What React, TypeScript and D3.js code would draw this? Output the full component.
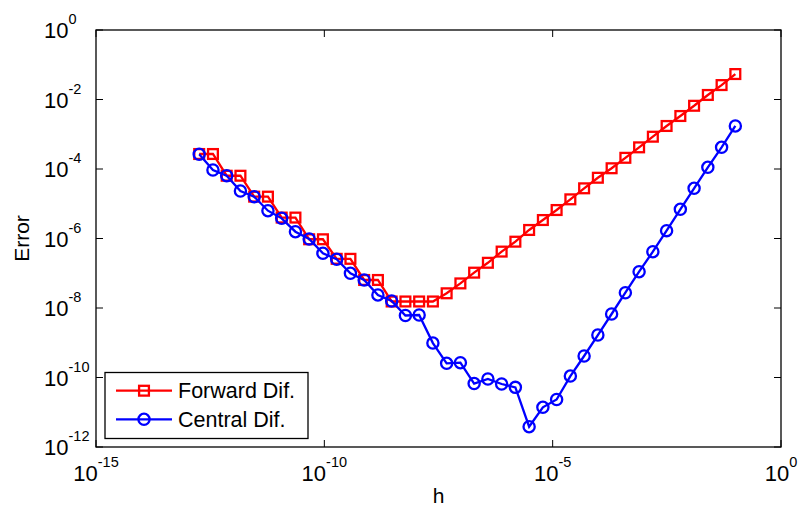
import React from "react";
import * as d3 from "d3";

// step sizes h (ascending)
const hValues = [
  1.819e-13, 3.638e-13, 7.276e-13, 1.455e-12, 2.910e-12, 5.821e-12, 1.164e-11, 2.328e-11,
  4.657e-11, 9.313e-11, 1.863e-10, 3.725e-10, 7.451e-10, 1.490e-9, 2.980e-9, 5.960e-9,
  1.192e-8, 2.384e-8, 4.768e-8, 9.537e-8, 1.907e-7, 3.815e-7, 7.629e-7, 1.526e-6,
  3.052e-6, 6.104e-6, 1.221e-5, 2.441e-5, 4.883e-5, 9.766e-5, 1.953e-4, 3.906e-4,
  7.813e-4, 1.563e-3, 3.125e-3, 6.25e-3, 1.25e-2, 2.5e-2, 5e-2, 1e-1,
];

const forwardErr = [
  2.70e-4, 2.70e-4, 6.4e-5, 6.4e-5, 1.6e-5, 1.6e-5, 4.0e-6, 4.0e-6,
  9.5e-7, 9.5e-7, 2.6e-7, 2.6e-7, 6.4e-8, 6.4e-8, 1.54e-8, 1.54e-8,
  1.54e-8, 1.54e-8, 2.65e-8, 5.1e-8, 1.04e-7, 2.0e-7, 4.2e-7, 8.1e-7,
  1.76e-6, 3.4e-6, 6.6e-6, 1.34e-5, 2.78e-5, 5.6e-5, 1.05e-4, 2.1e-4,
  4.2e-4, 8.5e-4, 1.73e-3, 3.35e-3, 6.6e-3, 1.35e-2, 2.6e-2, 5.4e-2,
];

const centralErr = [
  2.65e-4, 9.36e-5, 6.41e-5, 2.33e-5, 1.60e-5, 6.31e-6, 3.81e-6, 1.57e-6,
  9.68e-7, 3.75e-7, 2.52e-7, 9.97e-8, 6.40e-8, 2.37e-8, 1.59e-8, 6.08e-9,
  6.29e-9, 9.8e-10, 2.56e-10, 2.67e-10, 6.7e-11, 9.06e-11, 6.5e-11, 5.2e-11,
  3.84e-12, 1.39e-11, 2.33e-11, 1.10e-10, 4.16e-10, 1.67e-9, 6.72e-9, 2.75e-8,
  1.11e-7, 4.17e-7, 1.68e-6, 6.92e-6, 2.78e-5, 1.12e-4, 4.21e-4, 1.73e-3,
];

const xTickExps = [-15, -10, -5, 0];
const yTickExps = [-12, -10, -8, -6, -4, -2, 0];
const seriesNames = ["Forward Dif.", "Central Dif."];

const W = 798;
const H = 510;
const left = 96;
const right = 781;
const top = 30;
const bottom = 447;
const FONT = "'Liberation Sans', Arial, Helvetica, sans-serif";

export default function App() {
  const x = d3.scaleLog().domain([1e-15, 1]).range([left, right]);
  const y = d3.scaleLog().domain([1e-12, 1]).range([bottom, top]);

  const line = d3
    .line<[number, number]>()
    .x((d) => x(d[0]))
    .y((d) => y(d[1]));

  const fwd: [number, number][] = hValues.map((h, i) => [h, forwardErr[i]]);
  const cen: [number, number][] = hValues.map((h, i) => [h, centralErr[i]]);

  const sq = 9.8;
  const cr = 5.6;
  const tickLen = 7;
  const sw = 2.3;

  return (
    <svg
      width={W}
      height={H}
      style={{ position: "absolute", left: 0, top: 0, background: "#fff" }}
      fontFamily={FONT}
    >
      <rect x={0} y={0} width={W} height={H} fill="#fff" />

      {/* x ticks */}
      {xTickExps.map((e) => {
        const xx = x(Math.pow(10, e));
        return (
          <g key={"xt" + e}>
            <line x1={xx} x2={xx} y1={bottom} y2={bottom - tickLen} stroke="#000" strokeWidth={1} />
            <line x1={xx} x2={xx} y1={top} y2={top + tickLen} stroke="#000" strokeWidth={1} />
            <text x={xx} y={480.5} textAnchor="middle" fontSize={22} fill="#000">
              10
              <tspan fontSize={14.5} dy={-13.5}>
                {String(e)}
              </tspan>
            </text>
          </g>
        );
      })}

      {/* y ticks */}
      {yTickExps.map((e) => {
        const yy = y(Math.pow(10, e));
        return (
          <g key={"yt" + e}>
            <line x1={left} x2={left + tickLen} y1={yy} y2={yy} stroke="#000" strokeWidth={1} />
            <line x1={right} x2={right - tickLen} y1={yy} y2={yy} stroke="#000" strokeWidth={1} />
            <text x={68.5} y={yy + 8} textAnchor="end" fontSize={22} fill="#000">
              10
            </text>
            <text x={68.5} y={yy - 5.7} textAnchor="start" fontSize={14.5} fill="#000">
              {String(e)}
            </text>
          </g>
        );
      })}

      {/* forward series */}
      <path d={line(fwd) || ""} fill="none" stroke="#ff0000" strokeWidth={sw} />
      {fwd.map((d, i) => (
        <rect
          key={"f" + i}
          x={x(d[0]) - sq / 2}
          y={y(d[1]) - sq / 2}
          width={sq}
          height={sq}
          fill="none"
          stroke="#ff0000"
          strokeWidth={sw}
        />
      ))}

      {/* central series */}
      <path d={line(cen) || ""} fill="none" stroke="#0000ff" strokeWidth={sw} />
      {cen.map((d, i) => (
        <circle
          key={"c" + i}
          cx={x(d[0])}
          cy={y(d[1])}
          r={cr}
          fill="none"
          stroke="#0000ff"
          strokeWidth={sw}
        />
      ))}

      {/* axes border */}
      <rect x={left} y={top} width={right - left} height={bottom - top} fill="none" stroke="#000" strokeWidth={1.3} />

      {/* axis labels */}
      <text x={438.5} y={503} textAnchor="middle" fontSize={21} fill="#000">
        h
      </text>
      <text
        transform={`translate(29,238.5) rotate(-90)`}
        textAnchor="middle"
        fontSize={21}
        fill="#000"
      >
        Error
      </text>

      {/* legend */}
      <g>
        <rect x={105} y={372.5} width={203} height={66} fill="#fff" stroke="#000" strokeWidth={1.3} />
        <line x1={116} x2={172} y1={390.7} y2={390.7} stroke="#ff0000" strokeWidth={sw} />
        <rect x={144 - sq / 2} y={390.7 - sq / 2} width={sq} height={sq} fill="none" stroke="#ff0000" strokeWidth={sw} />
        <text x={178} y={398.3} fontSize={21.5} fill="#000">
          {seriesNames[0]}
        </text>
        <line x1={116} x2={172} y1={419.3} y2={419.3} stroke="#0000ff" strokeWidth={sw} />
        <circle cx={144} cy={419.3} r={cr} fill="none" stroke="#0000ff" strokeWidth={sw} />
        <text x={178} y={427} fontSize={21.5} fill="#000">
          {seriesNames[1]}
        </text>
      </g>
    </svg>
  );
}
